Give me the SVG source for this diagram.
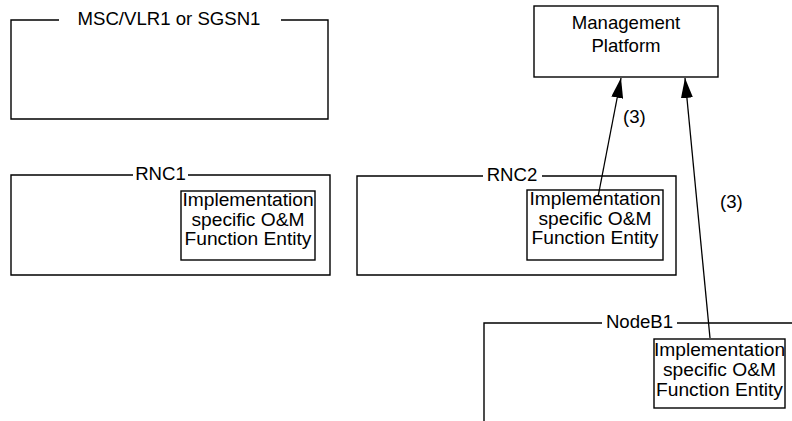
<svg xmlns="http://www.w3.org/2000/svg" width="792" height="421" viewBox="0 0 792 421">
<defs>
<style>
text{font-family:"Liberation Sans",Arial,sans-serif;font-size:18.6px;fill:#000}
.c{text-anchor:middle}
.i{font-size:19.2px}
.b{fill:#fff;stroke:#000;stroke-width:1.4}
.l{fill:none;stroke:#000;stroke-width:1.4}
.a{fill:none;stroke:#000;stroke-width:1.3}
</style>
<marker id="ah" viewBox="0 0 20 12" refX="20" refY="6" markerWidth="20" markerHeight="12" markerUnits="userSpaceOnUse" orient="auto">
<path d="M0,0 L20,6 L0,12 Z" fill="#000"/>
</marker>
</defs>
<rect width="792" height="421" fill="#fff"/>
<g id="msc">
<path class="l" d="M59,20 H11 V119 H328 V20 H281"/>
<text class="c" x="169" y="25">MSC/VLR1 or SGSN1</text>
</g>
<g id="mgmt">
<rect class="b" x="534" y="6" width="184" height="71"/>
<text class="c" x="626" y="29">Management</text>
<text class="c" x="626" y="52">Platform</text>
</g>
<g id="rnc1">
<path class="l" d="M133,175 H11 V275 H330 V175 H188"/>
<text class="c" x="160.5" y="180">RNC1</text>
<g id="rnc1-oam">
<rect class="b" x="181" y="191" width="134" height="69"/>
<text class="c i" x="248" y="206">Implementation</text>
<text class="c i" x="248" y="225.5">specific O&amp;M</text>
<text class="c i" x="248" y="245">Function Entity</text>
</g>
</g>
<g id="rnc2">
<path class="l" d="M483,176 H357 V275 H676 V176 H542"/>
<text class="c" x="512" y="181">RNC2</text>
<g id="rnc2-oam">
<rect class="b" x="527" y="190" width="136" height="70"/>
<text class="c i" x="595" y="205">Implementation</text>
<text class="c i" x="595" y="224.5">specific O&amp;M</text>
<text class="c i" x="595" y="244">Function Entity</text>
</g>
</g>
<g id="nodeb1">
<path class="l" d="M602,323 H484 V421 M677,323 H792"/>
<text class="c" x="639.5" y="328">NodeB1</text>
<g id="nodeb1-oam">
<rect class="b" x="654" y="339" width="131" height="69"/>
<text class="c i" x="719.5" y="356">Implementation</text>
<text class="c i" x="719.5" y="376">specific O&amp;M</text>
<text class="c i" x="719.5" y="396">Function Entity</text>
</g>
</g>
<g id="connectors">
<line class="a" x1="598" y1="197" x2="621" y2="78" marker-end="url(#ah)"/>
<line class="a" x1="710" y1="338" x2="685" y2="78" marker-end="url(#ah)"/>
<text x="623" y="123">(3)</text>
<text x="720" y="208">(3)</text>
</g>
</svg>
